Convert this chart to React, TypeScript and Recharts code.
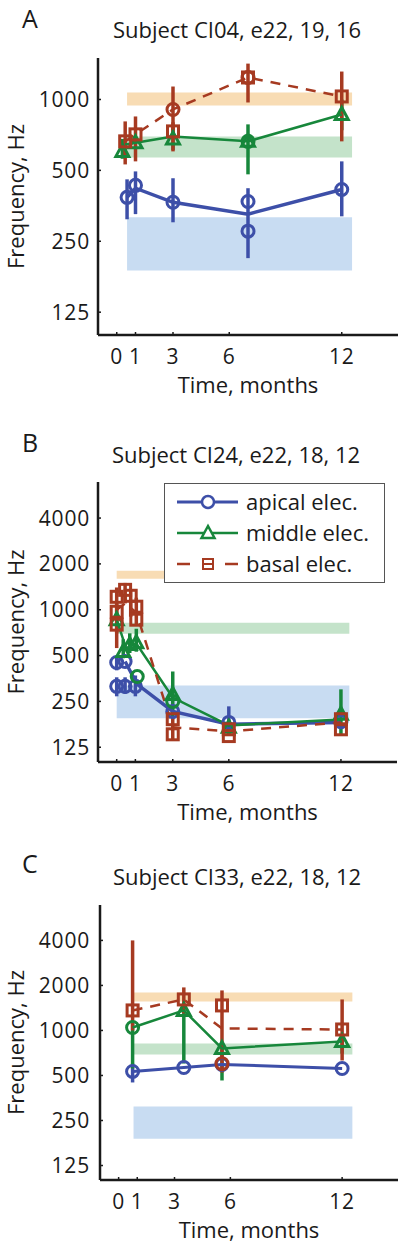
import { ScatterChart, Scatter, XAxis, YAxis, ErrorBar, ReferenceArea, Legend } from 'recharts'

type Pt = { m: number; hz: number; lo?: number; hi?: number; mk?: 'o' | 't' | 's' }

const monthTicks = [0, 1, 3, 6, 12]
const hzTicksA = [125, 250, 500, 1000]
const hzTicksBC = [125, 250, 500, 1000, 2000, 4000]

// panel A - CI04
const aApical: Pt[] = [
    { m: 0.55, hz: 384, lo: 310, hi: 458 },
    { m: 1.0, hz: 432, lo: 326, hi: 495 },
    { m: 3.0, hz: 366, lo: 301, hi: 463 },
    { m: 7.0, hz: 369, lo: 212, hi: 420 },
    { m: 7.0, hz: 276 },
    { m: 12.0, hz: 415, lo: 319, hi: 546 },
]
const aApicalLine: Pt[] = [
    { m: 0.55, hz: 384 }, { m: 1.0, hz: 420 }, { m: 3.0, hz: 366 }, { m: 7.0, hz: 326 }, { m: 12.0, hz: 415 },
]
const aMiddle: Pt[] = [
    { m: 0.3, hz: 602, lo: 560, hi: 680 },
    { m: 1.0, hz: 655 },
    { m: 3.0, hz: 680, lo: 610, hi: 760 },
    { m: 7.0, hz: 664, lo: 481, hi: 784, mk: 'o' },
    { m: 7.0, hz: 664 },
    { m: 12.0, hz: 864, lo: 740, hi: 1000 },
]
const aMiddleLine: Pt[] = [
    { m: 0.45, hz: 644 }, { m: 3.0, hz: 697 }, { m: 7.0, hz: 664 }, { m: 12.0, hz: 864 },
]
const aBasal: Pt[] = [
    { m: 0.45, hz: 664, lo: 530, hi: 807 },
    { m: 1.0, hz: 711, lo: 546, hi: 847 },
    { m: 3.0, hz: 907, lo: 740, hi: 1135, mk: 'o' },
    { m: 3.0, hz: 732, lo: 602, hi: 800 },
    { m: 7.0, hz: 1240, lo: 971, hi: 1420, mk: 'o' },
    { m: 7.0, hz: 1240 },
    { m: 12.0, hz: 1030, lo: 664, hi: 1314 },
]
const aBasalLine: Pt[] = [
    { m: 0.45, hz: 664 }, { m: 1.0, hz: 711 }, { m: 3.0, hz: 907 }, { m: 7.0, hz: 1240 }, { m: 12.0, hz: 1030 },
]
const aSpan = [0.55, 12.55]
const aBasalBand = [943, 1071]
const aMiddleBand = [567, 697]
const aApicalBand = [188, 316]

// panel B - CI24
const bApical: Pt[] = [
    { m: 0.0, hz: 450, lo: 400, hi: 500 },
    { m: 0.0, hz: 314, lo: 270, hi: 360 },
    { m: 0.45, hz: 457 },
    { m: 0.45, hz: 314, lo: 280, hi: 360 },
    { m: 1.0, hz: 314, lo: 270, hi: 370 },
    { m: 3.0, hz: 215 },
    { m: 6.0, hz: 182, lo: 150, hi: 232 },
    { m: 12.0, hz: 184 },
]
const bApicalLine: Pt[] = [
    { m: 0.45, hz: 457 }, { m: 1.1, hz: 323 }, { m: 3.0, hz: 215 }, { m: 6.0, hz: 177 }, { m: 12.0, hz: 182 },
]
const bMiddle: Pt[] = [
    { m: 0.0, hz: 860 },
    { m: 0.35, hz: 531, lo: 480, hi: 640 },
    { m: 0.7, hz: 590, lo: 520, hi: 700 },
    { m: 1.05, hz: 608, lo: 530, hi: 750 },
    { m: 1.1, hz: 364, mk: 'o' },
    { m: 3.0, hz: 278, lo: 191, hi: 393 },
    { m: 3.0, hz: 250, mk: 'o' },
    { m: 6.0, hz: 169, lo: 150, hi: 190 },
    { m: 12.0, hz: 206, lo: 152, hi: 300 },
]
const bMiddleLine: Pt[] = [
    { m: 0.0, hz: 860 }, { m: 0.5, hz: 560 }, { m: 1.05, hz: 600 }, { m: 3.0, hz: 265 }, { m: 6.0, hz: 174 }, { m: 12.0, hz: 190 },
]
const bBasal: Pt[] = [
    { m: 0.0, hz: 1216, lo: 900, hi: 1400 },
    { m: 0.0, hz: 970, lo: 700, hi: 1100 },
    { m: 0.0, hz: 798, lo: 560, hi: 900 },
    { m: 0.45, hz: 1351, lo: 1100, hi: 1500 },
    { m: 0.75, hz: 1235, lo: 900, hi: 1350 },
    { m: 1.05, hz: 1047, lo: 800, hi: 1200 },
    { m: 1.05, hz: 860 },
    { m: 3.0, hz: 191, lo: 140, hi: 200 },
    { m: 3.0, hz: 152 },
    { m: 6.0, hz: 164 },
    { m: 6.0, hz: 148 },
    { m: 12.0, hz: 191 },
    { m: 12.0, hz: 164 },
]
const bBasalLine: Pt[] = [
    { m: 0.0, hz: 1000 }, { m: 0.45, hz: 1100 }, { m: 1.05, hz: 960 }, { m: 3.0, hz: 169 }, { m: 6.0, hz: 159 }, { m: 12.0, hz: 182 },
]
const bSpan = [0.0, 12.45]
const bBasalBand = [1596, 1800]
const bMiddleBand = [696, 822]
const bApicalBand = [194, 318]

// panel C - CI33
const cApical: Pt[] = [
    { m: 0.75, hz: 532, lo: 449, hi: 600 },
    { m: 3.5, hz: 565 },
    { m: 5.55, hz: 592 },
    { m: 12.0, hz: 557 },
]
const cMiddle: Pt[] = [
    { m: 0.75, hz: 1047, lo: 557, hi: 1150, mk: 'o' },
    { m: 3.5, hz: 1361, lo: 601, hi: 1450 },
    { m: 5.55, hz: 758, lo: 463, hi: 800 },
    { m: 12.0, hz: 844, lo: 700, hi: 900 },
]
const cBasal: Pt[] = [
    { m: 0.75, hz: 1361, lo: 1000, hi: 4000 },
    { m: 3.5, hz: 1612, lo: 1300, hi: 1940 },
    { m: 5.55, hz: 1470, lo: 523, hi: 1852 },
    { m: 5.55, hz: 600, mk: 'o' },
    { m: 12.0, hz: 1015, lo: 630, hi: 1612 },
]
const cBasalLine: Pt[] = [
    { m: 0.75, hz: 1361 }, { m: 3.5, hz: 1612 }, { m: 5.55, hz: 1031 }, { m: 12.0, hz: 1015 },
]
const cSpan = [0.8, 12.55]
const cBasalBand = [1563, 1795]
const cMiddleBand = [691, 818]
const cApicalBand = [189, 310]

const BLUE = '#3d4fa8'
const GREEN = '#17873b'
const RED = '#a63a21'
const INK = '#1a1a1a'

const rows = (pts: Pt[]) =>
    pts.map((p) => ({
        x: p.m,
        y: p.hz,
        err: p.lo != null && p.hi != null ? [p.hz - p.lo, p.hi - p.hz] : [0, 0],
        mk: p.mk,
    }))

const marker = (color: string, def: string) => (props: any) => {
    const { cx, cy, payload } = props
    const k = payload?.mk || def
    if (k === 'o') return <circle cx={cx} cy={cy} r={6} fill="none" stroke={color} strokeWidth={3} />
    if (k === 't')
        return <path d={`M${cx},${cy - 7} L${cx + 6.5},${cy + 5} L${cx - 6.5},${cy + 5} Z`} fill="none" stroke={color} strokeWidth={3} />
    return <rect x={cx - 5.5} y={cy - 5.5} width={11} height={11} fill="none" stroke={color} strokeWidth={3} />
}

type Series = { color: string; width: number; dash?: string; def: string; pts: Pt[]; line: Pt[] }

const legendContent = () => (
    <svg width={222} height={101} style={{ display: 'block', fontFamily: 'Open Sans' }}>
        <rect x={0.5} y={0.5} width={220} height={99} fill="#fff" stroke="#555" />
        <line x1={13} x2={74} y1={19} y2={19} stroke={BLUE} strokeWidth={3} />
        <circle cx={44} cy={19} r={6} fill="#fff" stroke={BLUE} strokeWidth={2.5} />
        <text x={82} y={27} fontSize={22} fill={INK}>apical elec.</text>
        <line x1={13} x2={74} y1={50} y2={50} stroke={GREEN} strokeWidth={2.5} />
        <path d="M44,43 L50.5,55 L37.5,55 Z" fill="#fff" stroke={GREEN} strokeWidth={2.5} />
        <text x={82} y={58} fontSize={22} fill={INK}>middle elec.</text>
        <line x1={13} x2={26} y1={81} y2={81} stroke={RED} strokeWidth={2.5} />
        <line x1={61} x2={74} y1={81} y2={81} stroke={RED} strokeWidth={2.5} />
        <rect x={39} y={76} width={10} height={10} fill="#fff" stroke={RED} strokeWidth={2} />
        <line x1={39} x2={49} y1={81} y2={81} stroke={RED} strokeWidth={2} />
        <text x={82} y={89} fontSize={22} fill={INK}>basal elec.</text>
    </svg>
)

type PanelProps = {
    top: number
    height: number
    plotTop: number
    plotLeft: number
    plotRight: number
    xAxisH: number
    yDomain: number[]
    yTicks: number[]
    span: number[]
    bands: number[][]
    series: Series[]
    showLegend?: boolean
}

const bandFills = ['#f8dcb4', '#c4e3ca', '#c8dcf2']

const Panel = ({ top, height, plotTop, plotLeft, plotRight, xAxisH, yDomain, yTicks, span, bands, series, showLegend }: PanelProps) => (
    <div style={{ position: 'absolute', left: 0, top }}>
        <ScatterChart
            width={400}
            height={height}
            margin={{ top: plotTop - top, right: 400 - plotRight, bottom: 0, left: 0 }}
        >
            {bands.map((b, i) => (
                <ReferenceArea key={i} x1={span[0]} x2={span[1]} y1={b[0]} y2={b[1]} fill={bandFills[i]} fillOpacity={1} stroke="none" />
            ))}
            <XAxis
                type="number"
                dataKey="x"
                domain={[-1, 15]}
                allowDataOverflow
                ticks={monthTicks}
                height={xAxisH}
                tickSize={-3}
                tickMargin={17}
                axisLine={{ stroke: INK, strokeWidth: 2.5 }}
                tickLine={{ stroke: INK, strokeWidth: 1.5 }}
                tick={{ fontSize: 21, fill: INK, letterSpacing: 0.8 }}
                label={{ value: 'Time, months', position: 'insideBottom', offset: xAxisH - 58, fontSize: 22, fill: INK, style: { fontSize: 22 } }}
            />
            <YAxis
                type="number"
                dataKey="y"
                scale="log"
                domain={yDomain}
                allowDataOverflow
                ticks={yTicks}
                width={plotLeft}
                tickSize={-3}
                tickMargin={plotLeft - 87}
                axisLine={{ stroke: INK, strokeWidth: 2.5 }}
                tickLine={{ stroke: INK, strokeWidth: 1.5 }}
                tick={{ fontSize: 21, fill: INK, letterSpacing: 0.8 }}
                label={{
                    value: 'Frequency, Hz',
                    angle: -90,
                    position: 'insideLeft',
                    offset: 16,
                    fill: INK,
                    style: { textAnchor: 'middle', fontSize: 22 },
                }}
            />
            {series.map((s, i) => (
                <Scatter
                    key={'l' + i}
                    data={rows(s.line)}
                    line={{ stroke: s.color, strokeWidth: s.width, strokeDasharray: s.dash }}
                    lineType="joint"
                    shape={() => <g />}
                    legendType="none"
                    isAnimationActive={false}
                />
            ))}
            {series.map((s, i) => (
                <Scatter key={'m' + i} data={rows(s.pts)} shape={marker(s.color, s.def)} legendType="none" isAnimationActive={false}>
                    <ErrorBar dataKey="err" direction="y" width={0} stroke={s.color} strokeWidth={3.5} />
                </Scatter>
            ))}
            {showLegend && (
                <Legend
                    layout="vertical"
                    align="center"
                    verticalAlign="middle"
                    content={legendContent}
                    wrapperStyle={{ left: 164, top: 83, width: 222, height: 101 }}
                />
            )}
        </ScatterChart>
    </div>
)

const App = () => {
    const seriesA: Series[] = [
        { color: BLUE, width: 3.5, def: 'o', pts: aApical, line: aApicalLine },
        { color: GREEN, width: 2.5, def: 't', pts: aMiddle, line: aMiddleLine },
        { color: RED, width: 2.5, dash: '10 8', def: 's', pts: aBasal, line: aBasalLine },
    ]
    const seriesB: Series[] = [
        { color: BLUE, width: 3.5, def: 'o', pts: bApical, line: bApicalLine },
        { color: GREEN, width: 2.5, def: 't', pts: bMiddle, line: bMiddleLine },
        { color: RED, width: 2.5, dash: '10 8', def: 's', pts: bBasal, line: bBasalLine },
    ]
    const seriesC: Series[] = [
        { color: BLUE, width: 3, def: 'o', pts: cApical, line: cApical },
        { color: GREEN, width: 2.5, def: 't', pts: cMiddle, line: cMiddle },
        { color: RED, width: 2.5, dash: '10 8', def: 's', pts: cBasal, line: cBasalLine },
    ]
    return (
        <div style={{ position: 'absolute', left: 0, top: 0, width: 400, height: 1244, overflow: 'hidden', background: '#fff', fontFamily: 'Open Sans' }}>
            <Panel top={0} height={400} plotTop={58} plotLeft={98} plotRight={398} xAxisH={65}
                yDomain={[100, 1500]} yTicks={hzTicksA} span={aSpan}
                bands={[aBasalBand, aMiddleBand, aApicalBand]} series={seriesA} />
            <Panel top={400} height={427} plotTop={482} plotLeft={98} plotRight={397} xAxisH={65}
                yDomain={[100, 6900]} yTicks={hzTicksBC} span={bSpan}
                bands={[bBasalBand, bMiddleBand, bApicalBand]} series={seriesB} showLegend />
            <Panel top={827} height={416} plotTop={905} plotLeft={100} plotRight={398} xAxisH={63}
                yDomain={[100, 6900]} yTicks={hzTicksBC} span={cSpan}
                bands={[cBasalBand, cMiddleBand, cApicalBand]} series={seriesC} />
            <svg width={400} height={1244} style={{ position: 'absolute', left: 0, top: 0, pointerEvents: 'none' }}>
                <g fill={INK} fontFamily="Open Sans">
                    <text x={22} y={28} fontSize={25}>A</text>
                    <text x={237} y={38} fontSize={22} textAnchor="middle">Subject CI04, e22, 19, 16</text>
                    <text x={22} y={452} fontSize={25}>B</text>
                    <text x={236} y={463} fontSize={22} textAnchor="middle">Subject CI24, e22, 18, 12</text>
                    <text x={22} y={873} fontSize={25}>C</text>
                    <text x={237} y={885} fontSize={22} textAnchor="middle">Subject CI33, e22, 18, 12</text>
                </g>
            </svg>
        </div>
    )
}

export default App
